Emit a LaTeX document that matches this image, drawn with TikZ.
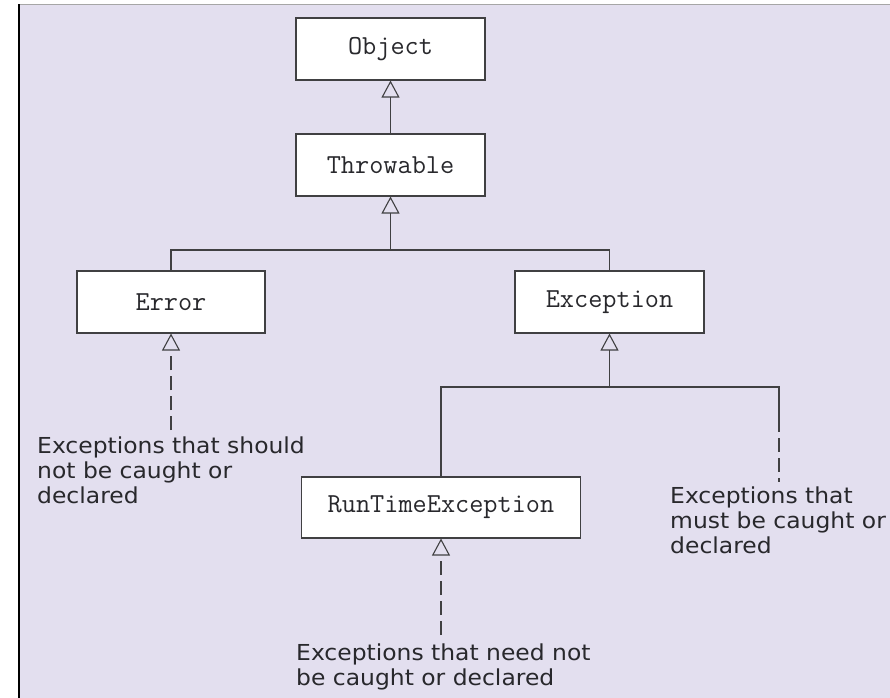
\documentclass[tikz,border=0pt]{standalone}
\usepackage{fontspec}
\setmainfont{DejaVu Sans}
\newfontfamily\codefont{Latin Modern Mono}
\newfontfamily\notefont[FakeStretch=1.065]{DejaVu Sans}
\usetikzlibrary{arrows.meta}
\definecolor{panel}{RGB}{227,223,239}
\definecolor{ink}{RGB}{64,64,66}
\definecolor{txt}{RGB}{40,40,44}
\tikzset{
  classbox/.style={draw=ink, line width=1.1pt, fill=white, minimum height=62pt,
    inner sep=0pt, font=\codefont\fontsize{27.5}{29}\selectfont, text=txt},
  note/.style={anchor=north west, inner sep=0pt, align=left, text=txt,
    font=\notefont\fontsize{22}{25}\selectfont},
  link/.style={draw=ink, line width=1.1pt},
  inh/.style={link, -{Triangle[open, width=18pt, length=17pt, line width=1.1pt]}},
  weak/.style={link, dash pattern=on 14pt off 6pt}
}
\begin{document}
\begin{tikzpicture}[x=1pt, y=-1pt]
  \useasboundingbox (0,0) rectangle (890,697);
  % panel
  \fill[white] (0,0) rectangle (890,697);
  \fill[panel] (19,4) rectangle (891,698);
  \draw[gray!70, line width=1pt] (19,4) -- (891,4);
  \draw[black, line width=1.2pt] (19,4) -- (19,698);

  % classes
  \node[classbox, minimum width=189pt] (obj) at (390.5,49) {Object};
  \node[classbox, minimum width=189pt] (thr) at (390.5,165) {Throwable};
  \node[classbox, minimum width=188pt] (err) at (171,302) {Error};
  \node[classbox, minimum width=189pt] (exc) at (609.5,302) {Exception};
  \node[classbox, minimum width=279pt, minimum height=61pt] (rte) at (441,507.5) {RunTimeException};

  % notes
  \node[note] (n1) at (37,437) {Exceptions that should\\not be caught or\\declared};
  \node[note] (n2) at (670,487) {Exceptions that\\must be caught or\\declared};
  \node[note] (n3) at (296,644) {Exceptions that need not\\be caught or declared};

  % junctions and free ends
  \coordinate (j1) at (390.5,250);
  \coordinate (j2) at (609.5,387);
  \coordinate (r1) at (779,418);
  \coordinate (r2) at (779,482);
  \coordinate (e1) at (171,430);
  \coordinate (e3) at (441,635);

  % inheritance links
  \draw[inh] (thr.north) -- (obj.south);
  \draw[inh] (j1) -- (thr.south);
  \draw[link] (err.north) |- (j1) -| (exc.north);
  \draw[inh] (j2) -- (exc.south);
  \draw[link] (rte.north) |- (j2) -| (r1);
  \draw[weak] (r1) -- (r2);
  \draw[inh, dash pattern=on 14pt off 6pt] (e1) -- (err.south);
  \draw[inh, dash pattern=on 14pt off 6pt] (e3) -- (rte.south);
\end{tikzpicture}
\end{document}
